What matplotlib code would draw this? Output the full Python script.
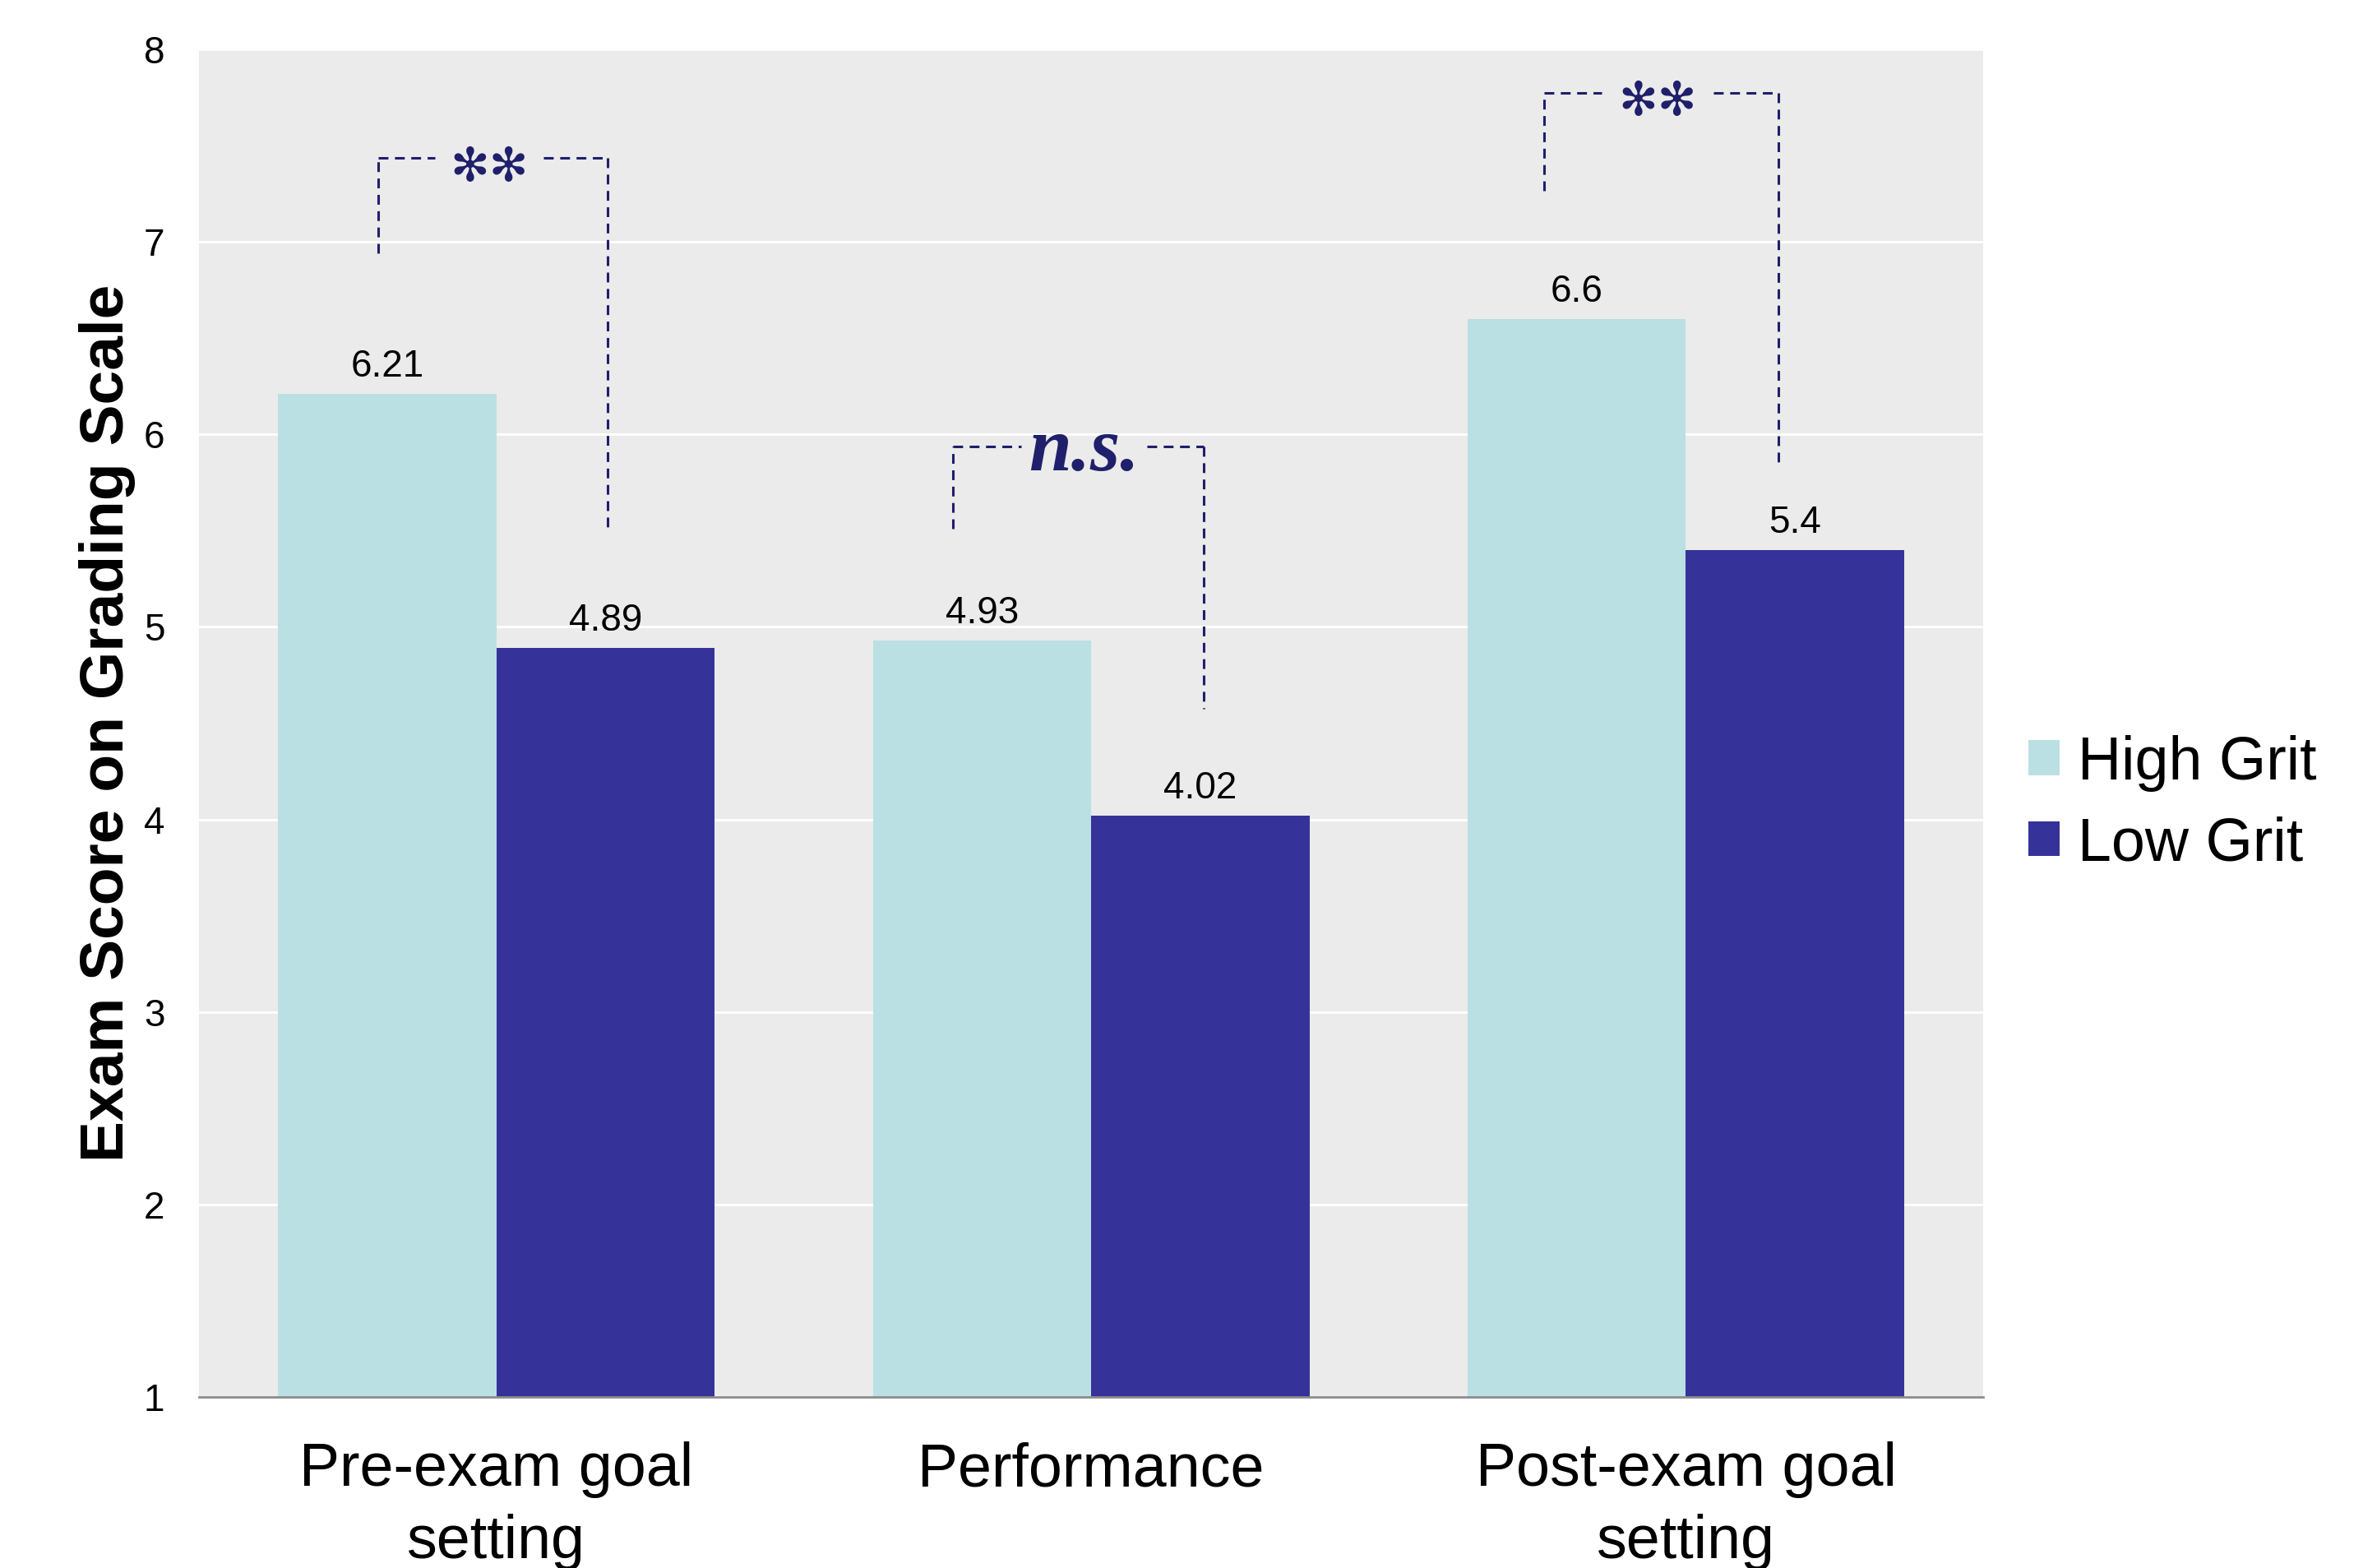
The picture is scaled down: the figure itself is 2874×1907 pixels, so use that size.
import numpy as np
import matplotlib.pyplot as plt
from matplotlib.patches import Patch

plt.rcParams['font.family'] = ['Liberation Sans', 'DejaVu Sans']

# group means on the grading scale
categories = ['Pre-exam goal\nsetting', 'Performance', 'Post-exam goal\nsetting']
high_grit = [6.21, 4.93, 6.6]
low_grit = [4.89, 4.02, 5.4]
series_names = ['High Grit', 'Low Grit']
sig_labels = ['**', 'n.s.', '**']

light = '#bae0e3'
dark = '#353399'
navy = '#1f1f6b'

fig = plt.figure(figsize=(28.74, 19.07), dpi=100)
ax = fig.add_axes([0.0842, 0.1091, 0.7551, 0.8594])
ax.set_facecolor('#ebebeb')

x = np.arange(len(categories))
w = 0.367
ax.bar(x - w/2, np.array(high_grit) - 1, w, bottom=1, color=light, zorder=2)
ax.bar(x + w/2, np.array(low_grit) - 1, w, bottom=1, color=dark, zorder=2)

# value labels above each bar
for xs, vals in [(x - w/2, high_grit), (x + w/2, low_grit)]:
    for xi, v in zip(xs, vals):
        ax.annotate(f'{v:g}', (xi, v), xytext=(0, 21), textcoords='offset pixels',
                    ha='center', va='baseline', fontsize=33, color='black', zorder=4)

ax.set_xlim(-0.5, 2.5)
ax.set_ylim(1, 8)
ax.set_yticks(range(1, 9))
ax.set_xticks(x)
ax.set_xticklabels(categories, fontsize=53, linespacing=1.35)
ax.tick_params(axis='x', length=0, pad=39)
ax.tick_params(axis='y', length=0, pad=30, labelsize=33)
ax.grid(axis='y', color='white', lw=2, zorder=1)
ax.set_axisbelow(True)
for s in ['left', 'right', 'top']:
    ax.spines[s].set_visible(False)
ax.spines['bottom'].set_color('#8c8c8c')
ax.spines['bottom'].set_linewidth(2)
ax.spines['bottom'].set_zorder(3)

ax.set_ylabel('Exam Score on Grading Scale', fontsize=54, fontweight='bold', va='center')
ax.yaxis.set_label_coords(-0.0516, 0.5)

# significance brackets: left x, right x (offset from group), top, left end, right end, text centre, gap half width
brackets = [
    (-0.199, 0.187, 7.436, 6.94, 5.51, -0.012, 0.091),
    (-0.232, 0.189, 5.937, 5.51, 4.574, -0.012, 0.106),
    (-0.238, 0.156, 7.774, 7.265, 5.834, -0.047, 0.094),
]
ls = (0, (3.9, 2.6))
for i, (xl, xr, top, yl, yr, xc, gap) in enumerate(brackets):
    g = x[i]
    kw = dict(color=navy, lw=2.2, ls=ls, zorder=5)
    ax.plot([g + xl, g + xl], [yl, top], **kw)
    ax.plot([g + xl, g + xc - gap], [top, top], **kw)
    ax.plot([g + xc + gap, g + xr], [top, top], **kw)
    ax.plot([g + xr, g + xr], [top, yr], **kw)
    if sig_labels[i] == 'n.s.':
        ax.annotate(sig_labels[i], (g + xc, top), xytext=(0, -29), textcoords='offset pixels',
                    ha='center', va='baseline', fontsize=67, fontweight='bold',
                    fontstyle='italic', family='Liberation Serif', color=navy, zorder=6)
    else:
        # teardrop asterisks for the significant pairs
        ax.annotate('\u273b\u273b', (g + xc, top), xytext=(0, -12), textcoords='offset pixels',
                    ha='center', va='center', fontsize=41,
                    family='DejaVu Sans', color=navy, zorder=6)

handles = [Patch(facecolor=light), Patch(facecolor=dark)]
fig.legend(handles, series_names, loc='center left', bbox_to_anchor=(0.8584, 0.4875),
           frameon=False, fontsize=53, handlelength=0.52, handleheight=0.52,
           handletextpad=0.3, labelspacing=0.4, borderpad=0, borderaxespad=0)

fig.savefig('out.png', dpi=100, facecolor='white')
